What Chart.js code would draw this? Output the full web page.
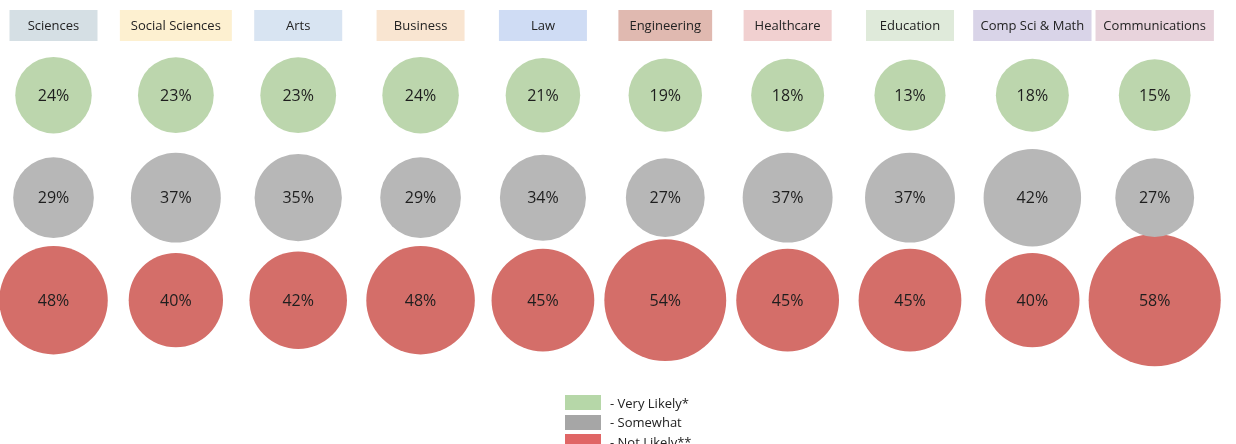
<!DOCTYPE html>
<html>
<head>
<meta charset="utf-8">
<title>Likelihood by field of study</title>
<script src="https://cdn.jsdelivr.net/npm/chart.js@4.4.1/dist/chart.umd.min.js"></script>
<style>
  body { margin: 0; background: #fff; font-family: 'Open Sans', sans-serif; }
  #wrap { position: relative; width: 1236px; height: 444px; overflow: hidden; }
  #legend { position: absolute; left: 565px; top: 393px; font-size: 13px; color: #222; }
  .item { display: flex; align-items: center; height: 19.5px; }
  .swatch { width: 36px; height: 15px; margin-right: 9px; }
</style>
</head>
<body>
<div id="wrap">
  <canvas id="chart" width="1236" height="444"></canvas>
  <div id="legend"></div>
</div>
<script>
// Data
const categories = ['Sciences', 'Social Sciences', 'Arts', 'Business', 'Law',
                    'Engineering', 'Healthcare', 'Education', 'Comp Sci & Math', 'Communications'];
const levels = ['Very Likely*', 'Somewhat', 'Not Likely**'];
const veryLikely = [24, 23, 23, 24, 21, 19, 18, 13, 18, 15];
const somewhat   = [29, 37, 35, 29, 34, 27, 37, 37, 42, 27];
const notLikely  = [48, 40, 42, 48, 45, 54, 45, 45, 40, 58];

// Styles
const headerColors = ['#d5dfe4', '#fdf0d0', '#d8e4f2', '#f9e5d1', '#cfdcf4',
                      '#e0b9b0', '#f1d0d0', '#dfeada', '#d9d4e8', '#e8d3dc'];
const bubbleColors = ['#bcd6ad', '#b7b7b7', '#d46e69'];
const swatchColors = ['#b6d7a8', '#a6a6a6', '#e06666'];

// bubble radius grows with the share (curve tuned to the source sizes)
function radiusFor(v) {
    return 34.8 + 0.00122 * Math.pow(v, 2.5);
}

function toPoints(values, level) {
    return values.map((v, i) => ({ x: categories[i], y: level, r: radiusFor(v), v: v }));
}

// Coloured header box with the field name above each column
const headerBoxes = {
    id: 'headerBoxes',
    beforeDatasetsDraw(chart) {
        const xScale = chart.scales.x;
        const ctx = chart.ctx;
        const step = xScale.getPixelForValue(1) - xScale.getPixelForValue(0);
        ctx.save();
        ctx.font = "13px 'Open Sans'";
        ctx.textAlign = 'center';
        ctx.textBaseline = 'middle';
        categories.forEach((name, i) => {
            const cx = xScale.getPixelForValue(i);
            let w = Math.max(88, ctx.measureText(name).width + 22);
            w = Math.min(w, step - 4);
            ctx.fillStyle = headerColors[i];
            ctx.fillRect(cx - w / 2, 10, w, 31);
            ctx.fillStyle = '#222';
            ctx.fillText(name, cx, 26);
        });
        ctx.restore();
    }
};

// Draws the percentage inside every bubble
const valueLabels = {
    id: 'valueLabels',
    afterDatasetsDraw(chart) {
        const ctx = chart.ctx;
        ctx.save();
        ctx.font = "16px 'Open Sans'";
        ctx.fillStyle = '#1e1e1e';
        ctx.textAlign = 'center';
        ctx.textBaseline = 'middle';
        chart.data.datasets.forEach((ds, d) => {
            chart.getDatasetMeta(d).data.forEach((el, i) => {
                ctx.fillText(ds.data[i].v + '%', el.x, el.y + 1);
            });
        });
        ctx.restore();
    }
};

const series = [veryLikely, somewhat, notLikely];

const chart = new Chart(document.getElementById('chart'), {
    type: 'bubble',
    data: {
        datasets: series.map((vals, k) => ({
            label: levels[k],
            data: toPoints(vals, levels[k]),
            backgroundColor: bubbleColors[k],
            borderWidth: 0,
            clip: false
        }))
    },
    options: {
        responsive: false,
        animation: false,
        events: [],
        layout: {
            autoPadding: false,
            padding: { left: 53.5, right: 81.3, top: 43.9, bottom: 92.6 }
        },
        plugins: {
            legend: { display: false },
            tooltip: { enabled: false }
        },
        scales: {
            x: {
                type: 'category',
                labels: categories,
                offset: false,
                display: false
            },
            y: {
                type: 'category',
                labels: levels,
                offset: true,
                display: false
            }
        }
    },
    plugins: [headerBoxes, valueLabels]
});

// Legend stacked below the bubbles, built from the datasets
const legendBox = document.getElementById('legend');
chart.data.datasets.forEach((ds, k) => {
    const row = document.createElement('div');
    row.className = 'item';
    const sw = document.createElement('span');
    sw.className = 'swatch';
    sw.style.background = swatchColors[k];
    const tx = document.createElement('span');
    tx.textContent = '- ' + ds.label;
    row.appendChild(sw);
    row.appendChild(tx);
    legendBox.appendChild(row);
});
</script>
</body>
</html>
